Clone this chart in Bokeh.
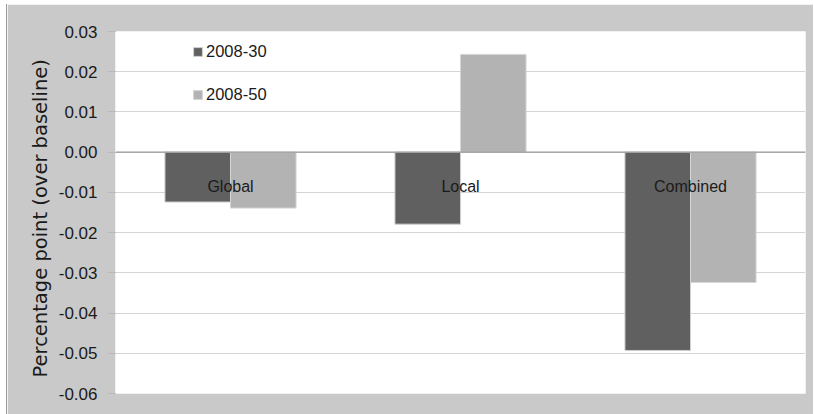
from bokeh.plotting import figure
from bokeh.models import (ColumnDataSource, FactorRange, Range1d, FixedTicker,
                          PrintfTickFormatter, Span, Legend, LegendItem, Title)
from bokeh.transform import dodge
from bokeh.core.properties import value
from bokeh.embed import file_html
from bokeh.resources import INLINE

# Change in percentage points relative to the baseline, by scenario
categories = ["Global", "Local", "Combined"]
series_names = ["2008-30", "2008-50"]
values_2008_30 = [-0.0124, -0.0179, -0.0493]
values_2008_50 = [-0.0139, 0.0243, -0.0324]
y_ticks = [-0.06, -0.05, -0.04, -0.03, -0.02, -0.01, 0.0, 0.01, 0.02, 0.03]
y_title = "Percentage point (over baseline)"

DARK = "#606060"
LIGHT = "#b3b3b3"
FRAME_BG = "#c9c9c9"
GRID = "#a8a8a8"
TEXT = "#1a1a1a"
FONT = "Liberation Sans"

src = ColumnDataSource(dict(
    cat=categories,
    s1=values_2008_30,
    s2=values_2008_50,
    zero=[0.0] * len(categories),
))

p = figure(
    x_range=FactorRange(*categories),
    y_range=Range1d(y_ticks[0], y_ticks[-1]),
    width=807, height=410,
    output_backend="svg", toolbar_location=None,
    background_fill_color="white", border_fill_color=FRAME_BG,
    outline_line_color=None,
    min_border_left=108, min_border_right=9,
    min_border_top=27, min_border_bottom=21,
    margin=(4, 0, 0, 6),
    styles={"border-left": "1px solid #9a9a9a"},
)

# Dotted horizontal gridlines, solid zero line
p.xgrid.visible = False
p.ygrid.ticker = FixedTicker(ticks=y_ticks)
p.ygrid.grid_line_color = GRID
p.ygrid.grid_line_dash = "1 1"
p.add_layout(Span(location=0, dimension="width", line_color="#9a9a9a", line_width=1.2))

bar_w = 0.285
r1 = p.vbar(x=dodge("cat", -bar_w / 2, range=p.x_range), top="s1", width=bar_w,
            source=src, fill_color=DARK, line_color="#cfcfcf", line_width=1)
r2 = p.vbar(x=dodge("cat", bar_w / 2, range=p.x_range), top="s2", width=bar_w,
            source=src, fill_color=LIGHT, line_color="#d6d6d6", line_width=1)

# Category names sit just under the zero line
p.text(x="cat", y="zero", text="cat", source=src, y_offset=34,
       text_align="center", text_baseline="middle",
       text_font=value(FONT), text_font_size="16px", text_color=TEXT)

p.xaxis.visible = False

ax = p.yaxis[0]
ax.ticker = FixedTicker(ticks=y_ticks)
ax.formatter = PrintfTickFormatter(format="%.2f")
ax.axis_line_color = None
ax.major_tick_in = 0
ax.major_tick_out = 7
ax.major_tick_line_color = GRID
ax.major_tick_line_dash = "1 1"
ax.minor_tick_line_color = None
ax.major_label_standoff = 11
ax.major_label_text_font = FONT
ax.major_label_text_font_size = "17px"
ax.major_label_text_color = TEXT

# Vertical axis title, starting a little above the bottom of the frame
p.add_layout(Title(
    text=y_title, align="left", offset=16, standoff=7,
    text_font="DejaVu Sans", text_font_size="19.5px",
    text_font_style="normal", text_color=TEXT,
), "left")

legend = Legend(
    items=[LegendItem(label=series_names[0], renderers=[r1]),
           LegendItem(label=series_names[1], renderers=[r2])],
    location=(77, 289), orientation="vertical",
    margin=0, padding=0, spacing=23,
    glyph_width=11, glyph_height=11, label_standoff=3, label_height=20,
    label_text_font=FONT, label_text_font_size="16.5px",
    label_text_color=TEXT,
    border_line_color=None, background_fill_alpha=0,
)
p.add_layout(legend)

with open("out.html", "w") as f:
    f.write(file_html(p, INLINE))
